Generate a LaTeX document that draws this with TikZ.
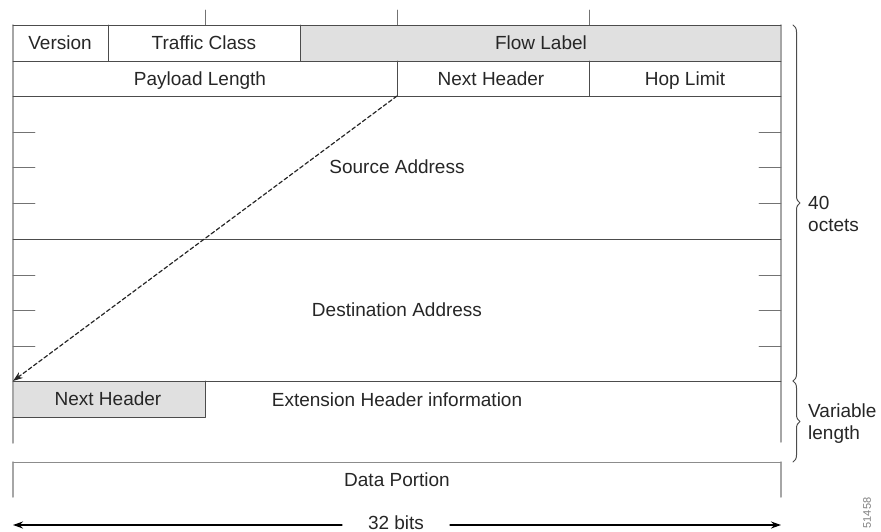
\documentclass[tikz,border=0pt]{standalone}
\usepackage{fontspec}
\setmainfont{Liberation Sans}
\usetikzlibrary{arrows.meta,decorations.pathreplacing}
\begin{document}
\begin{tikzpicture}[x=1pt, y=-1pt, line cap=round, line join=round, >={Stealth[length=10pt,width=7pt]}, font=\fontsize{19}{22}\selectfont]
	\tikzset{hline/.style={draw=black!70, line width=0.9pt},
		vline/.style={draw=black!35, line width=1.5pt},
		tick/.style={draw=black!55, line width=0.9pt},
		shade/.style={fill=black!12},
		field/.style={inner sep=0pt, text=black!85, text height=14pt, text depth=1pt},
		brace style/.style={draw=black!70, line width=1pt, decorate, decoration={brace, amplitude=7pt}}}
	\useasboundingbox (0,0) rectangle (881,532);
	% shaded fields
	\fill[shade] (300,25) rectangle (781,61);
	\fill[shade] (13,381) rectangle (205,417);
	% outer sides
	\draw[vline] (13,25)--(13,443) (781,25)--(781,442);
	\draw[vline] (13,462)--(13,497) (781,462)--(781,497);
	\draw[tick] (205,10)--(205,25) (397,10)--(397,25) (589,10)--(589,25);
	% rows
	\draw[hline] (13,25)--(781,25) (13,61)--(781,61) (13,96)--(781,96)
		(13,239)--(781,239) (13,381)--(781,381);
	\draw[hline] (108,25)--(108,61) (300,25)--(300,61)
		(397,61)--(397,96) (589,61)--(589,96);
	\draw[hline] (13,417)--(205,417)--(205,381);
	\draw[draw=black!45, line width=0.9pt] (13,462)--(781,462);
	% word ticks
	\foreach \y in {132,167,203,275,310,346}
		\draw[tick] (13,\y)--(35,\y) (759,\y)--(781,\y);
	% field names
	\node[field] (ver) at (60,43) {Version};
	\node[field] (tclass) at (204,43) {Traffic Class};
	\node[field] (flow) at (541,43) {Flow Label};
	\node[field] (plen) at (200,79) {Payload Length};
	\node[field] (nhdr) at (491,79) {Next Header};
	\node[field] (hop) at (685,79) {Hop Limit};
	\node[field] (src) at (397,167) {Source Address};
	\node[field] (dst) at (397,310) {Destination Address};
	\node[field] (exthdr) at (108,399) {Next Header};
	\node[field] (extinfo) at (397,400) {Extension Header information};
	\node[field] (data) at (397,480) {Data Portion};
	\node[field] (bits) at (396,523) {32 bits};
	% next header pointer
	\coordinate (nhcorner) at (397,96);
	\coordinate (extcorner) at (13,381);
	\draw[->, dash pattern=on 4pt off 2.5pt, line width=1.2pt, black!85] (nhcorner)--(extcorner);
	% width arrow
	\coordinate (bitsl) at (13,525);
	\coordinate (bitsr) at (781,525);
	\draw[->, line width=1.3pt] (342,525)--(bitsl);
	\draw[->, line width=1.3pt] (450,525)--(bitsr);
	% lengths
	\draw[brace style] (793,25)--(793,381);
	\draw[brace style] (793,381)--(793,462);
	\node[field, anchor=west, align=left, text height=, text depth=] (octets) at (808,214) {40\\octets};
	\node[field, anchor=west, align=left, text height=, text depth=] (varlen) at (808,424) {Variable\\length};
	\node[field, text=black!50, font=\fontsize{11}{12}\selectfont, rotate=90, text height=, text depth=] (fig) at (867,513) {51458};
\end{tikzpicture}
\end{document}
